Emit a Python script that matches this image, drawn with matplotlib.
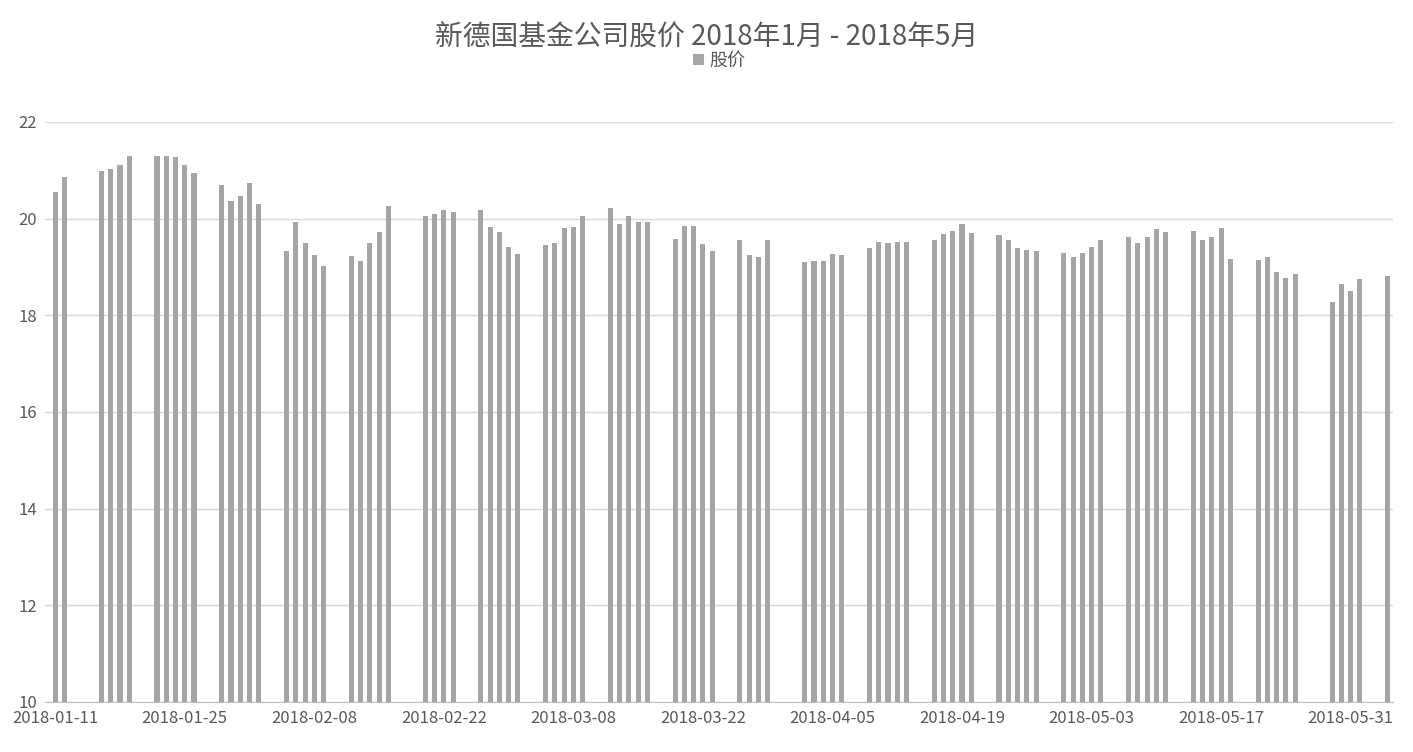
import matplotlib
matplotlib.use("Agg")
import matplotlib.pyplot as plt
import matplotlib.dates as mdates
import numpy as np
import datetime as dt

plt.rcParams['font.family'] = ['Noto Sans CJK SC', 'DejaVu Sans']

dates = ["2018-01-11","2018-01-12",
"2018-01-16","2018-01-17","2018-01-18","2018-01-19",
"2018-01-22","2018-01-23","2018-01-24","2018-01-25","2018-01-26",
"2018-01-29","2018-01-30","2018-01-31","2018-02-01","2018-02-02",
"2018-02-05","2018-02-06","2018-02-07","2018-02-08","2018-02-09",
"2018-02-12","2018-02-13","2018-02-14","2018-02-15","2018-02-16",
"2018-02-20","2018-02-21","2018-02-22","2018-02-23",
"2018-02-26","2018-02-27","2018-02-28","2018-03-01","2018-03-02",
"2018-03-05","2018-03-06","2018-03-07","2018-03-08","2018-03-09",
"2018-03-12","2018-03-13","2018-03-14","2018-03-15","2018-03-16",
"2018-03-19","2018-03-20","2018-03-21","2018-03-22","2018-03-23",
"2018-03-26","2018-03-27","2018-03-28","2018-03-29",
"2018-04-02","2018-04-03","2018-04-04","2018-04-05","2018-04-06",
"2018-04-09","2018-04-10","2018-04-11","2018-04-12","2018-04-13",
"2018-04-16","2018-04-17","2018-04-18","2018-04-19","2018-04-20",
"2018-04-23","2018-04-24","2018-04-25","2018-04-26","2018-04-27",
"2018-04-30","2018-05-01","2018-05-02","2018-05-03","2018-05-04",
"2018-05-07","2018-05-08","2018-05-09","2018-05-10","2018-05-11",
"2018-05-14","2018-05-15","2018-05-16","2018-05-17","2018-05-18",
"2018-05-21","2018-05-22","2018-05-23","2018-05-24","2018-05-25",
"2018-05-29","2018-05-30","2018-05-31","2018-06-01",
"2018-06-04"]
prices = [20.55,20.85,
20.98,21.02,21.10,21.30,
21.30,21.30,21.28,21.10,20.95,
20.70,20.37,20.47,20.73,20.30,
19.33,19.93,19.50,19.25,19.02,
19.23,19.12,19.50,19.73,20.25,
20.05,20.10,20.17,20.13,
20.17,19.83,19.73,19.42,19.27,
19.45,19.50,19.80,19.83,20.05,
20.22,19.88,20.05,19.93,19.93,
19.58,19.85,19.85,19.47,19.33,
19.55,19.25,19.20,19.55,
19.10,19.12,19.13,19.27,19.25,
19.38,19.52,19.50,19.52,19.52,
19.55,19.68,19.75,19.88,19.70,
19.65,19.55,19.38,19.35,19.33,
19.28,19.20,19.28,19.42,19.55,
19.62,19.50,19.62,19.78,19.72,
19.75,19.55,19.62,19.80,19.17,
19.15,19.20,18.90,18.77,18.85,
18.27,18.65,18.50,18.75,
18.82]
yticks = [10,12,14,16,18,20,22]

x = mdates.date2num([dt.datetime.strptime(d, "%Y-%m-%d") for d in dates])
fig = plt.figure(figsize=(14.13,7.52), dpi=100)
ax = fig.add_axes([0.032,0.0665,0.954,0.7715])
ax.bar(x, prices, width=0.55, color='#a5a5a5', label='股价', zorder=2)
start = mdates.date2num(dt.datetime(2018,1,11))
ax.set_xlim(start-1.08, start+144.6)
ax.set_ylim(10,22)
ax.set_yticks(yticks)
ticks = [start+14*k for k in range(11)]
ax.set_xticks(ticks)
ax.xaxis.set_major_formatter(mdates.DateFormatter('%Y-%m-%d'))
ax.grid(axis='y', color='#d9d9d9', lw=1, zorder=0)
for s in ['top','right','left']:
    ax.spines[s].set_visible(False)
ax.spines['bottom'].set_color('#bfbfbf')
ax.tick_params(axis='both', length=0, labelsize=12, colors='#595959', pad=6)
ax.tick_params(axis='x', length=5, color='#bfbfbf', direction='in')
fig.text(0.5, 0.95, '新德国基金公司股价 2018年1月 - 2018年5月', ha='center', va='center', fontsize=20, color='#595959')
ax.legend(loc='center', bbox_to_anchor=(0.5, 1.105), frameon=False, fontsize=13,
          handlelength=0.6, handleheight=0.6, handletextpad=0.3, labelcolor='#595959')
fig.savefig('out.png', dpi=100)
